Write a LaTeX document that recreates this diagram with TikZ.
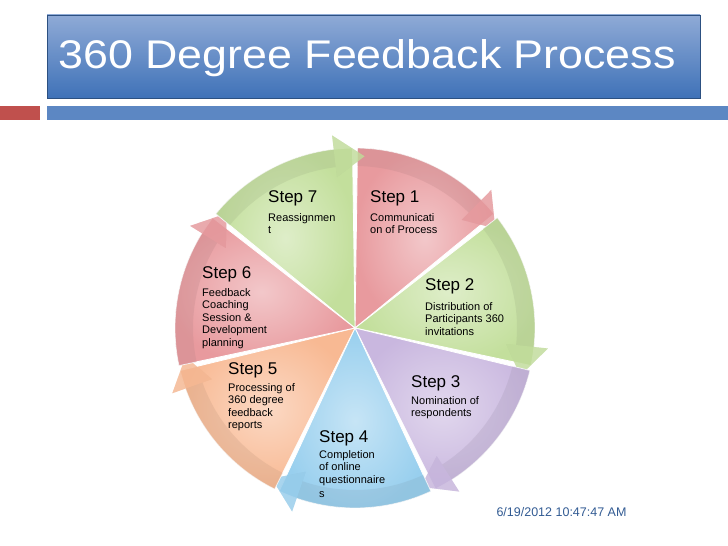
\documentclass[tikz,border=0pt]{standalone}
\usepackage{fontspec}
\setmainfont{Liberation Sans}
\begin{document}
\begin{tikzpicture}[x=1pt,y=1pt,
  head/.style={anchor=north west,inner sep=0pt,font=\fontsize{17}{19}\selectfont},
  desc/.style={anchor=north west,inner sep=0pt,align=left,font=\fontsize{11}{12.5}\selectfont}]
\useasboundingbox (0,0) rectangle (728,546);
\definecolor{tb1}{HTML}{8FAAD6}\definecolor{tb2}{HTML}{3F72B8}
\definecolor{cA}{HTML}{E89A9E}\definecolor{cB}{HTML}{C3DF9C}\definecolor{cC}{HTML}{C9B7DF}
\definecolor{cD}{HTML}{98CFEE}\definecolor{cE}{HTML}{F8B993}
\definecolor{redsq}{HTML}{C0504D}
\shade[top color=tb1,bottom color=tb2,draw=tb2!70!black] (47,448) rectangle (700,531);
\node[anchor=west,text=white,font=\fontsize{40}{44}\selectfont,xscale=1.12,inner sep=0pt] (title) at (58,488) {360 Degree Feedback Process};
\fill[redsq] (0,426) rectangle (40,440);
\fill[tb2!85] (47,426) rectangle (728,440);
\begin{scope}[shift={(355,218)}]
\foreach \k/\col in {1/cA,2/cB,3/cC,4/cD,5/cE,6/cA,7/cB}{
  \pgfmathsetmacro{\s}{90-51.4286*(\k-1)-0.8}
  \pgfmathsetmacro{\e}{90-51.4286*\k+0.8}
  \pgfmathsetmacro{\ea}{\e+6}
  \pgfmathsetmacro{\eb}{\e-4}
  \shade[inner color=\col!55,outer color=\col,draw=white,line width=0.8pt]
     (0,0) -- (\s:180) arc[start angle=\s,end angle=\e,radius=180] -- cycle;
  \fill[\col!80!black!90,opacity=0.3] (\s:162) arc[start angle=\s,end angle=\ea,radius=162]
     -- (\ea:152) -- (\eb:172) -- (\ea:194) -- (\ea:180) arc[start angle=\ea,end angle=\s,radius=180] -- cycle;
  \fill[\col,opacity=0.75] (\ea:152) -- (\eb:172) -- (\ea:194) -- cycle;
}
\end{scope}
\node[head] (h7) at (268,356) {Step 7};
\node[desc] (d7) at (268,333) {Reassignmen\\t};
\node[head] (h1) at (370,356) {Step 1};
\node[desc] (d1) at (370,333) {Communicati\\on of Process};
\node[head] (h2) at (425,268) {Step 2};
\node[desc] (d2) at (425,244) {Distribution of\\Participants 360\\invitations};
\node[head] (h3) at (411,171) {Step 3};
\node[desc] (d3) at (411,150) {Nomination of\\respondents};
\node[head] (h4) at (319,116) {Step 4};
\node[desc] (d4) at (319,96) {Completion\\of online\\questionnaire};
\begin{scope}\clip (300,40) rectangle (420,54);
\node[desc] (d4b) at (319,55) {s};\end{scope}
\node[head] (h5) at (228,184) {Step 5};
\node[desc] (d5) at (228,163) {Processing of\\360 degree\\feedback\\reports};
\node[head] (h6) at (202,280) {Step 6};
\node[desc] (d6) at (202,258) {Feedback\\Coaching\\Session \&\\Development\\planning};
\node[anchor=west,text=tb2!80!black,font=\fontsize{12.5}{14}\selectfont] (date) at (493,34) {6/19/2012 10:47:47 AM};
\end{tikzpicture}
\end{document}
